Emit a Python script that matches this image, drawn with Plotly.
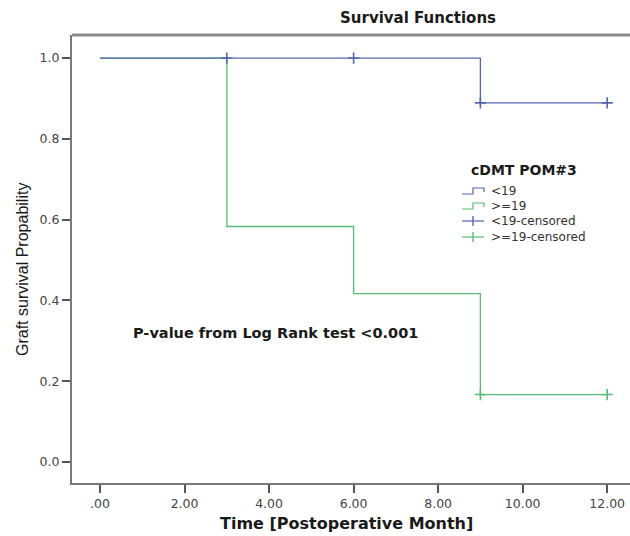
import plotly.graph_objects as go

# ---- data ----
time_lt19 = [0, 9, 9, 12]
surv_lt19 = [1.0, 1.0, 0.889, 0.889]
cens_time_lt19 = [3, 6, 9, 12]
cens_surv_lt19 = [1.0, 1.0, 0.889, 0.889]

time_ge19 = [0, 3, 3, 6, 6, 9, 9, 12]
surv_ge19 = [1.0, 1.0, 0.583, 0.583, 0.417, 0.417, 0.167, 0.167]
cens_time_ge19 = [9, 12]
cens_surv_ge19 = [0.167, 0.167]

x_tickvals = [0, 2, 4, 6, 8, 10, 12]
x_ticktext = [".00", "2.00", "4.00", "6.00", "8.00", "10.00", "12.00"]
y_tickvals = [0.0, 0.2, 0.4, 0.6, 0.8, 1.0]
legend_labels = ["<19", ">=19", "<19-censored", ">=19-censored"]

BLUE = "#5567b3"
GREEN = "#55bd75"
FONT = "DejaVu Sans, Liberation Sans, Arial"

W, H = 630, 536
L, R, T, B = 72, 0, 35, 53
PW, PH = W - L - R, H - T - B


def px(x, y):
    return (x - L) / PW, (H - B - y) / PH


fig = go.Figure()
fig.add_trace(go.Scatter(x=time_ge19, y=surv_ge19, mode="lines",
                         line=dict(color=GREEN, width=1.3), showlegend=False))
fig.add_trace(go.Scatter(x=time_lt19, y=surv_lt19, mode="lines",
                         line=dict(color=BLUE, width=1.3), showlegend=False))
fig.add_trace(go.Scatter(x=cens_time_lt19, y=cens_surv_lt19, mode="markers",
                         marker=dict(symbol="cross-thin", size=8,
                                     line=dict(color=BLUE, width=1.6)),
                         showlegend=False))
fig.add_trace(go.Scatter(x=cens_time_ge19, y=cens_surv_ge19, mode="markers",
                         marker=dict(symbol="cross-thin", size=8,
                                     line=dict(color=GREEN, width=1.6)),
                         showlegend=False))

shapes = []
annotations = []


def note(text, x, y, size, color="#1a1a1a", family=FONT, xanchor="center", angle=0):
    tx, ty = px(x, y)
    annotations.append(dict(text=text, x=tx, y=ty, xref="paper", yref="paper",
                            xanchor=xanchor, yanchor="middle", textangle=angle,
                            showarrow=False, font=dict(size=size, color=color, family=family)))


# top border line
shapes.append(dict(type="line", xref="paper", yref="paper", x0=0, x1=1, y0=1, y1=1,
                   line=dict(color="#8a8a8a", width=3)))

note("<b>Survival Functions</b>", 418, 18, 15)
note("Graft survival Propability", 22, 270, 16,
     family="Liberation Sans Narrow, Liberation Sans, Arial", angle=-90)
note("<b>Time [Postoperative Month]</b>", 346, 523, 16)
note("<b>P-value from Log Rank test <0.001</b>", 275, 333, 14.5)

# legend (manual)
note("<b>cDMT POM#3</b>", 524, 170, 14)
entry_y = [191, 206, 221, 237]
colors = [BLUE, GREEN, BLUE, GREEN]
for i, (lab, ey, col) in enumerate(zip(legend_labels, entry_y, colors)):
    note(lab, 489, ey, 12, color="#333", xanchor="left")
    if i < 2:
        pts = [(462, ey + 3), (473, ey + 3), (473, ey - 3), (484, ey - 3), (484, ey + 1)]
        path = "M " + " L ".join(f"{px(a, b)[0]},{px(a, b)[1]}" for a, b in pts)
        shapes.append(dict(type="path", xref="paper", yref="paper", path=path,
                           line=dict(color=col, width=1.2)))
    else:
        x0, y0 = px(462, ey)
        x1, _ = px(484, ey)
        shapes.append(dict(type="line", xref="paper", yref="paper", x0=x0, x1=x1, y0=y0, y1=y0,
                           line=dict(color=col, width=1.2)))
        xm, ya = px(473, ey - 5)
        _, yb = px(473, ey + 5)
        shapes.append(dict(type="line", xref="paper", yref="paper", x0=xm, x1=xm, y0=ya, y1=yb,
                           line=dict(color=col, width=1.4)))

fig.update_layout(
    width=W, height=H,
    margin=dict(l=L, r=R, t=T, b=B),
    paper_bgcolor="white", plot_bgcolor="white",
    showlegend=False,
    shapes=shapes, annotations=annotations,
    xaxis=dict(range=[-0.663, 12.54], tickvals=x_tickvals, ticktext=x_ticktext,
               showgrid=False, zeroline=False, showline=True, linecolor="#7a7a7a", linewidth=2,
               ticks="outside", ticklen=8, tickcolor="#555", tickwidth=1.5,
               tickfont=dict(size=12.5, color="#444", family=FONT)),
    yaxis=dict(range=[-0.052, 1.057], tickvals=y_tickvals, tickformat=".1f",
               showgrid=False, zeroline=False, showline=True, linecolor="#7a7a7a", linewidth=2,
               ticks="outside", ticklen=8, tickcolor="#555", tickwidth=1.5,
               tickfont=dict(size=12.5, color="#444", family=FONT)),
)

fig.write_html("out.html")
